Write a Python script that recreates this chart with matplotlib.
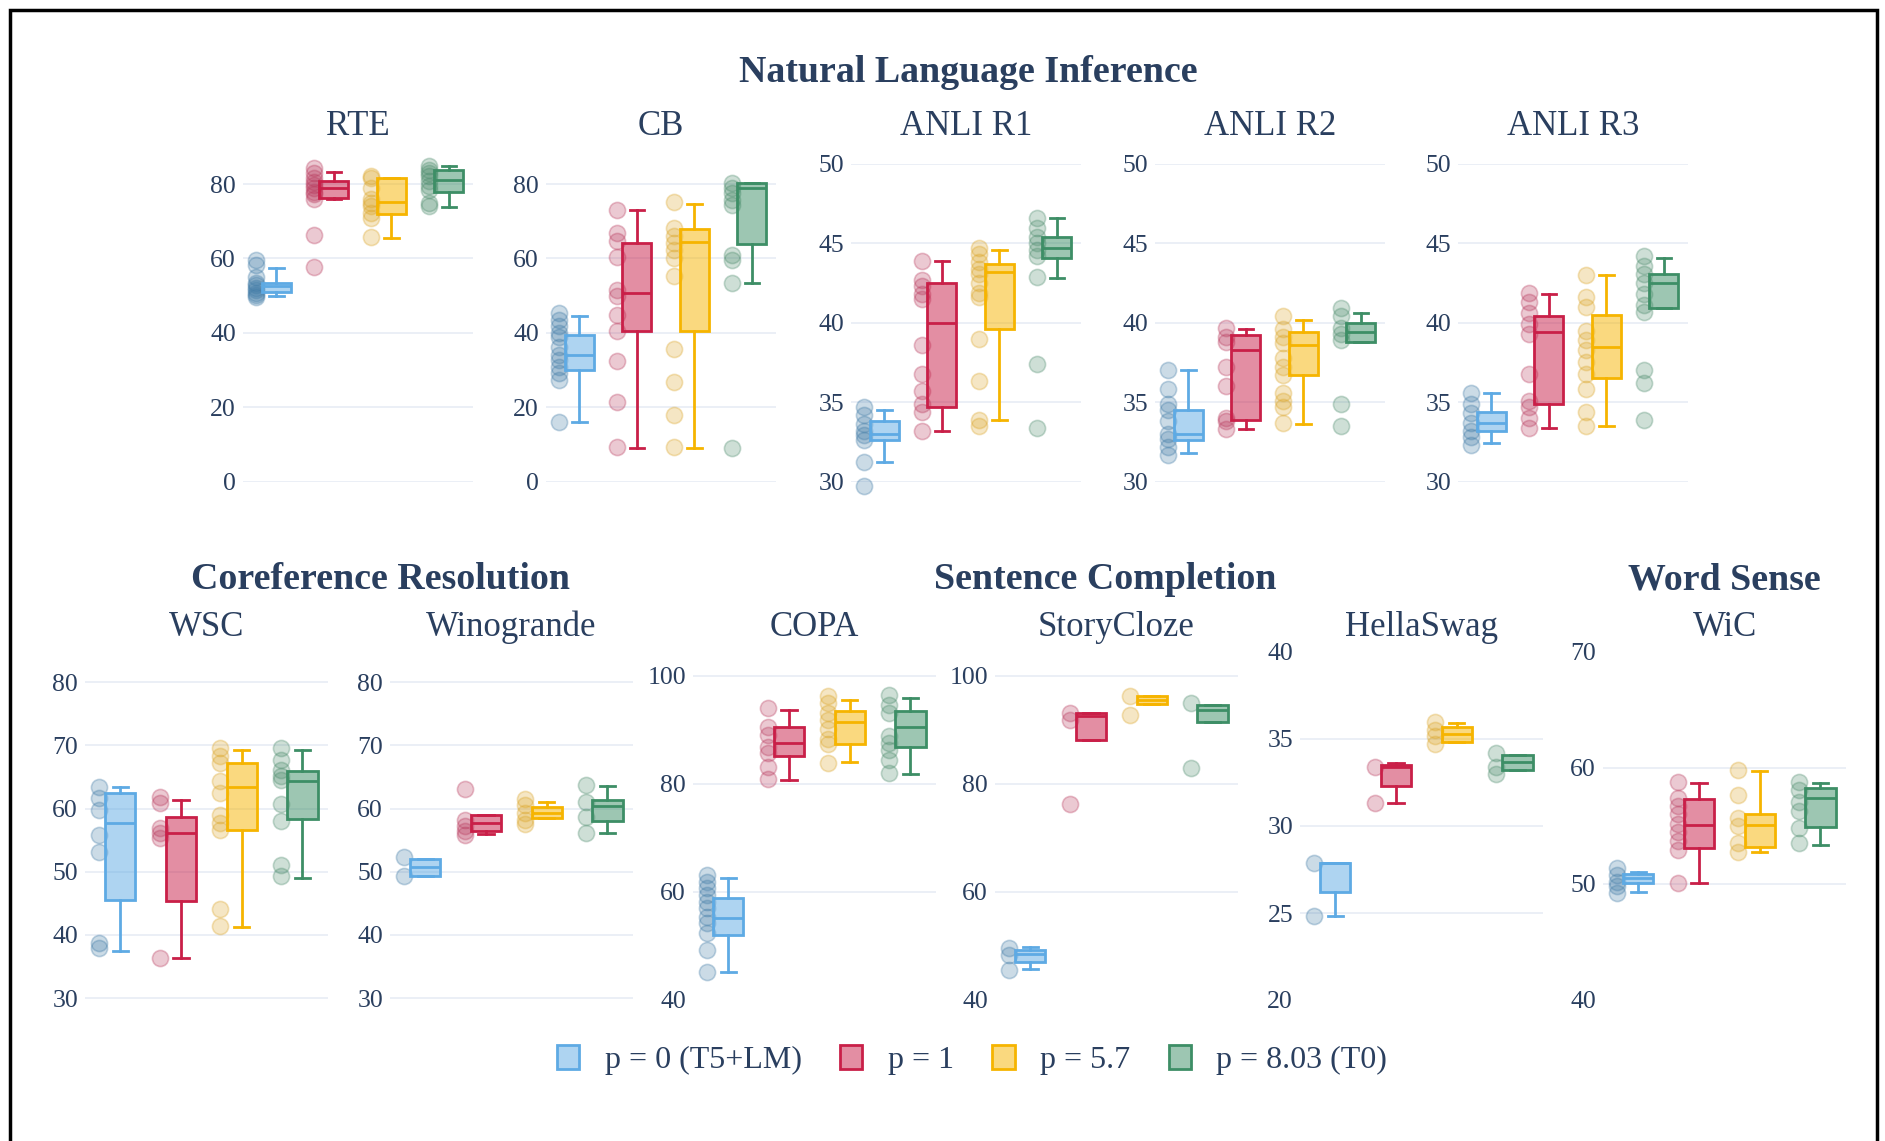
import matplotlib
matplotlib.use("Agg")
import matplotlib.pyplot as plt
from matplotlib.colors import to_rgba
from matplotlib.patches import Patch, Rectangle

plt.rcParams['font.family'] = ['Liberation Serif', 'DejaVu Serif']

# ---------------------------------------------------------------- data
series_labels = ["p = 0 (T5+LM)", "p = 1", "p = 5.7", "p = 8.03 (T0)"]

# box statistics per series: (lower whisker, q1, median, q3, upper whisker)
rte_boxes = [(49.8, 51.1, 52.5, 53.5, 57.4), (76.1, 76.2, 78.9, 80.7, 83.2),
             (65.5, 72.0, 75.1, 81.6, 81.6), (73.7, 78.0, 81.2, 83.9, 84.9)]
rte_points = [[59.5, 58.2, 55.0, 53.5, 52.8, 52.0, 51.4, 50.8, 50.2, 49.6],
              [84.3, 83.0, 81.6, 80.5, 79.8, 78.9, 78.0, 77.2, 76.0, 66.2, 57.7],
              [82.1, 81.5, 78.9, 76.0, 75.0, 74.0, 72.2, 70.9, 65.7],
              [84.9, 83.8, 83.0, 82.1, 80.7, 79.4, 78.5, 74.9, 74.0]]

cb_boxes = [(15.9, 29.9, 34.1, 39.5, 44.6), (9.0, 40.6, 50.7, 64.1, 73.1),
            (9.0, 40.4, 64.3, 67.9, 74.7), (53.4, 63.9, 78.9, 80.3, 80.3)]
cb_points = [[45.3, 43.5, 41.7, 39.9, 39.0, 36.3, 34.1, 32.7, 30.9, 29.1, 27.4, 15.9],
             [73.1, 66.8, 64.6, 60.5, 51.6, 49.8, 44.8, 40.4, 32.3, 21.5, 9.2],
             [75.3, 68.2, 65.9, 64.1, 62.3, 60.1, 55.3, 35.6, 26.7, 17.9, 9.4],
             [80.4, 78.9, 77.6, 75.8, 74.4, 61.0, 59.6, 53.4, 9.0]]

anli1_boxes = [(31.2, 32.6, 33.0, 33.8, 34.5), (33.2, 34.7, 40.0, 42.5, 43.9),
               (33.9, 39.6, 43.2, 43.7, 44.6), (42.8, 44.1, 44.7, 45.4, 46.6)]
anli1_points = [[34.7, 34.2, 33.6, 33.2, 32.9, 32.6, 31.2, 29.7],
                [43.9, 42.7, 42.3, 41.8, 41.5, 38.6, 36.8, 35.7, 34.9, 34.4, 33.2],
                [44.7, 44.3, 43.8, 43.4, 43.1, 42.5, 41.9, 41.6, 39.0, 36.3, 33.9, 33.5],
                [46.6, 46.0, 45.4, 45.0, 44.6, 44.2, 42.9, 37.4, 33.4]]

anli2_boxes = [(31.8, 32.6, 33.0, 34.5, 37.0), (33.3, 33.9, 38.3, 39.2, 39.6),
               (33.6, 36.7, 38.6, 39.4, 40.2), (38.8, 38.8, 39.4, 40.0, 40.6)]
anli2_points = [[37.0, 35.8, 34.9, 34.5, 33.8, 33.0, 32.7, 32.2, 31.7],
                [39.7, 39.1, 38.8, 37.2, 36.0, 34.0, 33.8, 33.3],
                [40.4, 39.6, 39.1, 38.7, 37.8, 37.2, 36.7, 35.6, 35.1, 34.7, 33.7],
                [40.9, 40.4, 39.7, 39.3, 38.9, 34.9, 33.5]]

anli3_boxes = [(32.4, 33.2, 33.7, 34.4, 35.6), (33.4, 34.9, 39.4, 40.4, 41.8),
               (33.5, 36.5, 38.5, 40.5, 43.0), (40.9, 40.9, 42.5, 43.1, 44.1)]
anli3_points = [[35.6, 34.9, 34.3, 33.7, 33.2, 32.8, 32.3],
                [41.9, 41.3, 40.6, 39.9, 39.3, 36.8, 35.1, 34.7, 34.0, 33.4],
                [43.0, 41.6, 41.0, 39.5, 38.9, 38.3, 37.5, 36.8, 35.8, 34.4, 33.5],
                [44.2, 43.6, 43.1, 42.5, 41.8, 41.1, 40.7, 37.0, 36.2, 33.9]]

wsc_boxes = [(37.4, 45.6, 57.8, 62.5, 63.5), (36.3, 45.4, 56.2, 58.6, 61.4),
             (41.2, 56.6, 63.4, 67.3, 69.3), (49.0, 58.3, 64.3, 66.0, 69.3)]
wsc_points = [[63.5, 61.7, 59.8, 55.8, 53.2, 38.7, 37.9],
              [61.9, 60.9, 56.9, 56.1, 55.3, 36.3],
              [69.6, 68.3, 67.2, 64.3, 62.5, 59.0, 57.7, 56.6, 44.1, 41.4],
              [69.6, 67.7, 66.1, 65.1, 64.6, 60.8, 58.0, 51.1, 49.3]]

wino_boxes = [(49.3, 49.3, 50.8, 52.0, 52.0), (56.0, 56.4, 57.8, 59.0, 59.0),
              (58.5, 58.5, 59.3, 60.2, 61.1), (56.2, 58.1, 60.4, 61.4, 63.6)]
wino_points = [[52.4, 49.4],
               [63.1, 58.2, 57.2, 56.4, 55.8],
               [61.6, 60.6, 59.3, 58.2, 57.6],
               [63.8, 61.1, 58.7, 56.2]]

copa_boxes = [(45.1, 52.0, 55.1, 58.8, 62.5), (80.7, 85.1, 87.5, 90.5, 93.7),
              (84.0, 87.4, 91.4, 93.4, 95.6), (81.9, 86.8, 90.6, 93.4, 95.9)]
copa_points = [[63.2, 61.9, 60.7, 59.4, 58.2, 57.0, 55.4, 54.2, 52.4, 49.3, 45.1],
               [94.0, 90.5, 89.1, 86.9, 85.7, 83.2, 80.9],
               [96.2, 94.9, 93.1, 91.9, 90.1, 88.3, 87.4, 83.8],
               [96.5, 94.6, 93.1, 88.8, 87.5, 86.3, 84.4, 82.0]]

story_boxes = [(45.7, 47.1, 48.6, 49.3, 49.9), (88.2, 88.2, 92.5, 93.1, 93.1),
               (94.8, 94.8, 95.6, 96.2, 96.2), (91.5, 91.5, 93.7, 94.6, 94.6)]
story_points = [[49.6, 48.3, 45.6],
                [93.1, 91.9, 76.3],
                [96.2, 92.8],
                [94.9, 82.9]]

hella_boxes = [(24.8, 26.2, 27.9, 27.9, 27.9), (31.3, 32.3, 33.4, 33.5, 33.6),
               (34.8, 34.8, 35.3, 35.7, 35.9), (33.2, 33.2, 33.7, 34.1, 34.1)]
hella_points = [[27.9, 24.8],
                [33.4, 31.3],
                [36.0, 35.5, 35.2, 34.7],
                [34.2, 33.4, 33.0]]

wic_boxes = [(49.3, 50.1, 50.5, 50.9, 51.0), (50.1, 53.1, 55.1, 57.3, 58.7),
             (52.8, 53.2, 55.1, 56.0, 59.7), (53.4, 54.9, 57.4, 58.3, 58.7)]
wic_points = [[51.4, 50.8, 50.2, 49.8, 49.2],
              [58.8, 57.4, 56.7, 56.0, 55.2, 54.5, 53.7, 52.9, 50.1],
              [59.8, 57.7, 55.7, 55.0, 53.5, 52.8],
              [58.8, 58.1, 57.1, 56.3, 54.8, 53.5]]

# ---------------------------------------------------------------- style
LINE_COLORS = ["#5eaae4", "#c91f48", "#f6b400", "#3d8e66"]
POINT_COLORS = ["#3f7aa6", "#b8385c", "#dba526", "#4b8b6b"]
TEXT = "#2a3f5f"
GRID = "#e9eef6"
BOX_SHIFT, BOX_W, PT_SHIFT = 0.08, 0.5, -0.27

W, H = 1885, 1141
fig = plt.figure(figsize=(W / 100, H / 100), dpi=100)
fig.patch.set_facecolor("white")


def fx(px):
    return px / W


def fy(py):
    return 1 - py / H


def draw_panel(left, top, bottom, width, boxes, points, ylim, yticks,
               edge_grid=True):
    ax = fig.add_axes([fx(left), fy(bottom), width / W, (bottom - top) / H])
    for t in yticks:
        if not edge_grid and (t <= ylim[0] + 0.01 or t >= ylim[1] - 0.01):
            continue
        ax.axhline(t, color=GRID, lw=1.3, zorder=0)
    for i, (b, pts) in enumerate(zip(boxes, points)):
        c = LINE_COLORS[i]
        lo, q1, med, q3, hi = b
        stats = [dict(whislo=lo, q1=q1, med=med, q3=q3, whishi=hi, fliers=[])]
        ax.bxp(stats, positions=[i + BOX_SHIFT], widths=BOX_W,
               capwidths=BOX_W / 2, patch_artist=True, showfliers=False,
               boxprops=dict(facecolor=to_rgba(c, 0.5), edgecolor=c, linewidth=2),
               medianprops=dict(color=c, linewidth=2),
               whiskerprops=dict(color=c, linewidth=2),
               capprops=dict(color=c, linewidth=2), zorder=3)
        pc = POINT_COLORS[i]
        ax.scatter([i + PT_SHIFT] * len(pts), pts, s=135,
                   facecolor=to_rgba(pc, 0.27), edgecolor=to_rgba(pc, 0.32),
                   linewidth=1.2, zorder=2, clip_on=False)
    ax.set_xlim(-0.5, 3.5)
    ax.set_ylim(*ylim)
    ax.set_xticks([])
    ax.set_yticks(yticks)
    ax.set_yticklabels([str(t) for t in yticks])
    ax.tick_params(axis="y", length=0, pad=5, labelsize=18.5, labelcolor=TEXT)
    for s in ax.spines.values():
        s.set_visible(False)
    ax.patch.set_alpha(0)
    return ax


# top row: natural language inference
top_row = [
    ("RTE", rte_boxes, rte_points, (0, 85.4), [0, 20, 40, 60, 80]),
    ("CB", cb_boxes, cb_points, (0, 85.4), [0, 20, 40, 60, 80]),
    ("ANLI R1", anli1_boxes, anli1_points, (30, 50), [30, 35, 40, 45, 50]),
    ("ANLI R2", anli2_boxes, anli2_points, (30, 50), [30, 35, 40, 45, 50]),
    ("ANLI R3", anli3_boxes, anli3_points, (30, 50), [30, 35, 40, 45, 50]),
]
top_left = [243, 546, 851, 1155, 1458]
for x0, (name, bx, pts, yl, yt) in zip(top_left, top_row):
    draw_panel(x0, 164, 481.5, 230, bx, pts, yl, yt)
    fig.text(fx(x0 + 115), fy(135), name, ha="center", va="baseline",
             fontsize=25, color=TEXT)

# bottom row
bottom_row = [
    ("WSC", wsc_boxes, wsc_points, (29.7, 84.8), [30, 40, 50, 60, 70, 80]),
    ("Winogrande", wino_boxes, wino_points, (29.7, 84.8), [30, 40, 50, 60, 70, 80]),
    ("COPA", copa_boxes, copa_points, (40, 104.4), [40, 60, 80, 100]),
    ("StoryCloze", story_boxes, story_points, (40, 104.4), [40, 60, 80, 100]),
    ("HellaSwag", hella_boxes, hella_points, (20, 40), [20, 25, 30, 35, 40]),
    ("WiC", wic_boxes, wic_points, (40, 70), [40, 50, 60, 70]),
]
bottom_left = [85, 390, 693, 995, 1300, 1603]
for x0, (name, bx, pts, yl, yt) in zip(bottom_left, bottom_row):
    draw_panel(x0, 652, 1000, 243, bx, pts, yl, yt, edge_grid=False)
    fig.text(fx(x0 + 121.5), fy(636), name, ha="center", va="baseline",
             fontsize=25, color=TEXT)

# group headings
for label, cx, by in [("Natural Language Inference", 968, 82),
                      ("Coreference Resolution", 380, 589),
                      ("Sentence Completion", 1105, 589),
                      ("Word Sense", 1724, 589)]:
    fig.text(fx(cx), fy(by), label, ha="center", va="baseline", fontsize=27.3,
             fontweight="bold", color=TEXT)

# legend
handles = [Patch(facecolor=to_rgba(c, 0.5), edgecolor=c, linewidth=2, label=l)
           for c, l in zip(LINE_COLORS, series_labels)]
fig.legend(handles=handles, loc="center", bbox_to_anchor=(fx(972), fy(1060)),
           ncol=4, frameon=False, fontsize=23, handlelength=0.7,
           handleheight=0.8, handletextpad=0.8, columnspacing=1.2,
           labelcolor=TEXT)

# outer frame
fig.add_artist(Rectangle((fx(10), fy(1170)), (1877 - 10) / W, (1170 - 10) / H,
                         transform=fig.transFigure, fill=False,
                         edgecolor="black", linewidth=2.5))

fig.savefig("out.png", dpi=100, facecolor="white")
